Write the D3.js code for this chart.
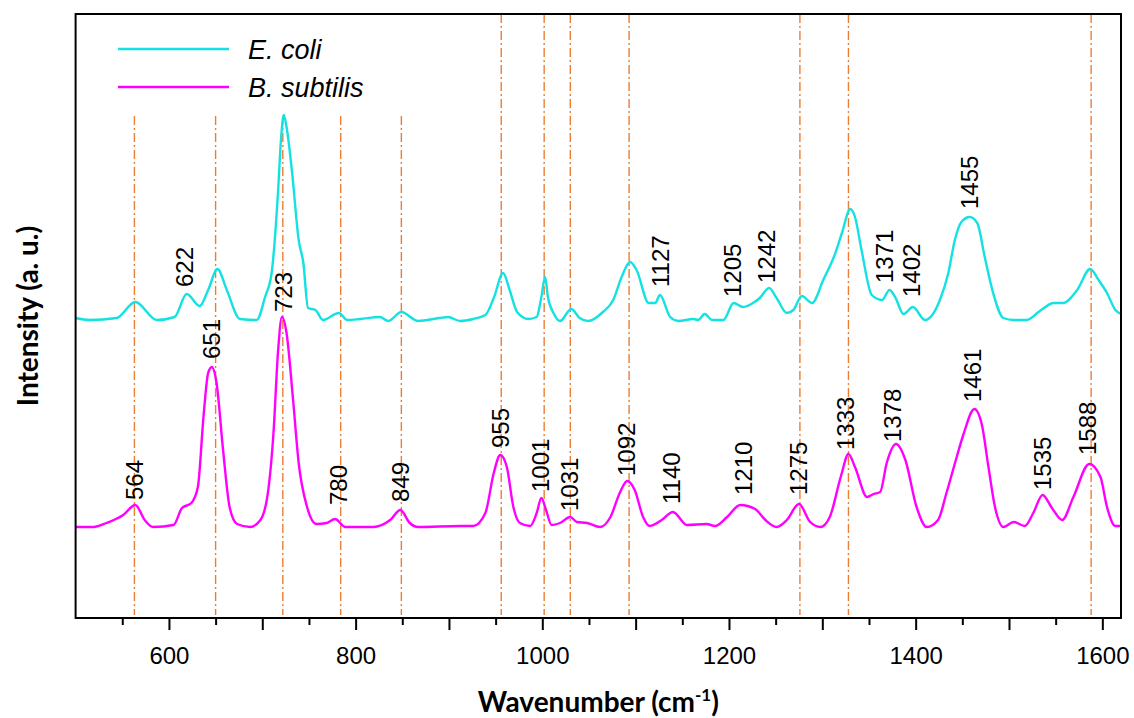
<!DOCTYPE html>
<html>
<head>
<meta charset="utf-8">
<script src="https://cdn.jsdelivr.net/npm/d3@7/dist/d3.min.js"></script>
<style>
  body { margin: 0; background: #fff; }
</style>
</head>
<body>
<svg id="chart" width="1134" height="718"></svg>
<script>
// spectra: [wavenumber, intensity (a.u., offset as plotted)]
var ecoli = [
  [500,300],[515,298],[544,300],[564,316],[587,298],[606,301],[619,324],[633,312],[642,328],
  [652,349],[662,328],[676,299],[694,298],[703,321],[710,345],[717,428],[720,478],[723,503],
  [726,491],[732,445],[739,378],[744,355],[749,310],[757,308],[765,298],[782,305],[791,298],
  [805,299],[826,301],[835,297],[849,306],[867,297],[890,300],[899,301],[912,297],[926,299],
  [939,303],[948,320],[958,345],[965,328],[973,306],[985,299],[994,301],[999,321],[1003,341],
  [1006,321],[1012,305],[1019,297],[1031,309],[1040,300],[1049,297],[1065,306],[1076,318],
  [1085,341],[1094,356],[1101,348],[1114,315],[1121,315],[1126,323],[1137,301],[1146,297],
  [1162,299],[1167,298],[1174,304],[1182,298],[1194,298],[1205,315],[1215,311],[1224,314],
  [1233,320],[1243,330],[1251,320],[1262,305],[1269,308],[1278,322],[1289,315],[1301,338],
  [1314,365],[1321,385],[1330,409],[1335,401],[1342,368],[1353,323],[1364,318],[1372,328],
  [1378,321],[1387,304],[1397,311],[1410,298],[1426,318],[1435,345],[1442,378],[1449,396],
  [1458,401],[1466,395],[1474,361],[1483,325],[1494,300],[1505,298],[1519,298],[1533,307],
  [1548,315],[1558,315],[1573,328],[1587,349],[1596,338],[1605,325],[1614,308],[1620,304]
];
var bsubtilis = [
  [500,91],[519,91],[533,95],[551,103],[564,113],[574,98],[583,91],[605,93],[614,110],
  [624,115],[631,131],[637,201],[642,245],[646,251],[651,235],[658,168],[665,111],[673,94],
  [687,91],[698,98],[706,125],[712,185],[717,268],[721,301],[726,285],[733,218],[739,155],
  [748,111],[758,94],[769,95],[778,99],[789,91],[819,91],[837,98],[848,108],[858,95],
  [867,91],[912,92],[926,92],[939,105],[948,145],[955,163],[962,151],[969,111],[976,95],
  [987,92],[994,105],[999,120],[1004,108],[1010,93],[1019,95],[1030,101],[1037,96],[1048,95],
  [1062,91],[1073,101],[1083,125],[1091,137],[1099,128],[1108,101],[1115,92],[1128,98],
  [1140,106],[1155,93],[1176,94],[1185,92],[1198,101],[1212,113],[1228,109],[1239,98],
  [1251,91],[1262,98],[1275,114],[1287,96],[1298,91],[1308,101],[1320,142],[1328,164],
  [1335,151],[1348,121],[1355,124],[1362,126],[1369,155],[1379,174],[1389,158],[1401,111],
  [1412,91],[1424,98],[1433,125],[1444,161],[1451,183],[1463,209],[1471,193],[1478,151],
  [1485,111],[1494,91],[1505,96],[1517,92],[1526,105],[1536,123],[1546,110],[1557,98],
  [1569,121],[1586,154],[1598,141],[1605,111],[1614,92],[1620,92]
];

// peak annotations: [text, wavenumber, intensity at label foot]
var ecoliPeaks = [
  ["622",616,331],["1127",1127,331],["1205",1204,321],["1242",1240,335],
  ["1371",1366,335],["1402",1395,321],["1455",1458,409]
];
var bsubPeaks = [
  ["564",563,118],["651",645,259],["723",723,306],["780",781,113],["849",848,116],
  ["955",955,170],["1001",998,126],["1031",1029,107],["1092",1090,142],["1140",1138,114],
  ["1210",1215,123],["1275",1274,123],["1333",1325,168],["1378",1375,176],["1461",1461,216],
  ["1535",1536,128],["1588",1584,163]
];

// guide lines: wavenumber and top intensity
var guideX   = [563, 650, 722, 784, 849, 956, 1002, 1030, 1093, 1276, 1328, 1588];
var guideTop = [502, 502, 502, 502, 502, 604, 604, 604, 604, 604, 604, 604];

var xMajor = [600, 700, 800, 900, 1000, 1100, 1200, 1300, 1400, 1500, 1600];
var xMinor = [550, 650, 750, 850, 950, 1050, 1150, 1250, 1350, 1450, 1550];
var xLabeled = [600, 800, 1000, 1200, 1400, 1600];

var seriesNames = ["E. coli", "B. subtilis"];
var seriesColors = ["#14E1E1", "#FF00FF"];

var plotLeft = 75.6, plotRight = 1121, plotTop = 14, plotBottom = 618;

var svg = d3.select("#chart");

var x = d3.scaleLinear().domain([500, 1620]).range([plotLeft, plotRight]);
var y = d3.scaleLinear().domain([0, 604]).range([plotBottom, plotTop]);

// guide lines
svg.append("g").selectAll("line")
  .data(guideX)
  .join("line")
    .attr("x1", d => x(d)).attr("x2", d => x(d))
    .attr("y1", (d, i) => y(guideTop[i]))
    .attr("y2", y(3))
    .attr("stroke", "#ED7D31")
    .attr("stroke-width", 1.4)
    .attr("stroke-dasharray", "9,3,2,3");

// spectra
var line = d3.line()
  .x(d => x(d[0]))
  .y(d => y(d[1]))
  .curve(d3.curveMonotoneX);

[ecoli, bsubtilis].forEach(function(s, i) {
  svg.append("path")
    .datum(s)
    .attr("fill", "none")
    .attr("stroke", seriesColors[i])
    .attr("stroke-width", 2.4)
    .attr("stroke-linejoin", "round")
    .attr("d", line);
});

// peak labels
svg.append("g").selectAll("text")
  .data(ecoliPeaks.concat(bsubPeaks))
  .join("text")
    .attr("transform", d => "translate(" + x(d[1]) + "," + y(d[2]) + ") rotate(-90)")
    .attr("dy", "0.36em")
    .attr("font-family", "Liberation Sans, Arial, sans-serif")
    .attr("font-size", 24)
    .attr("fill", "#000")
    .text(d => d[0]);

// frame
svg.append("rect")
  .attr("x", plotLeft).attr("y", plotTop)
  .attr("width", plotRight - plotLeft).attr("height", plotBottom - plotTop)
  .attr("fill", "none")
  .attr("stroke", "#000")
  .attr("stroke-width", 2);

// x axis: minor then major ticks
var minorAxis = svg.append("g")
  .attr("transform", "translate(0," + plotBottom + ")")
  .call(d3.axisBottom(x).tickValues(xMinor).tickSize(7).tickFormat(""));
minorAxis.select(".domain").remove();

var majorAxis = svg.append("g")
  .attr("transform", "translate(0," + plotBottom + ")")
  .call(d3.axisBottom(x).tickValues(xMajor).tickSize(12).tickPadding(17)
          .tickFormat(d => xLabeled.indexOf(d) >= 0 ? d : ""));
majorAxis.select(".domain").remove();

svg.selectAll(".tick line").attr("stroke", "#000").attr("stroke-width", 2);
majorAxis.selectAll("text")
  .attr("font-family", "Liberation Sans, Arial, sans-serif")
  .attr("font-size", 24)
  .attr("fill", "#000");

// axis titles
var title = svg.append("text")
  .attr("x", (plotLeft + plotRight) / 2)
  .attr("y", 712)
  .attr("text-anchor", "middle")
  .attr("font-family", "Lato, sans-serif")
  .attr("font-weight", "bold")
  .attr("font-size", 28)
  .attr("fill", "#000");
title.append("tspan").text("Wavenumber (cm");
title.append("tspan").attr("font-size", 17).attr("dy", -11).text("-1");
title.append("tspan").attr("dy", 11).text(")");

svg.append("text")
  .attr("transform", "translate(38," + (plotTop + plotBottom) / 2 + ") rotate(-90)")
  .attr("text-anchor", "middle")
  .attr("font-family", "Lato, sans-serif")
  .attr("font-weight", "bold")
  .attr("font-size", 28)
  .attr("fill", "#000")
  .text("Intensity (a. u.)");

// legend
var legend = svg.append("g");
seriesNames.forEach(function(name, i) {
  var ly = 49 + i * 38;
  legend.append("line")
    .attr("x1", 118).attr("x2", 229)
    .attr("y1", ly).attr("y2", ly)
    .attr("stroke", seriesColors[i])
    .attr("stroke-width", 2.4);
  legend.append("text")
    .attr("x", 248).attr("y", ly + 10)
    .attr("font-family", "Liberation Sans, Arial, sans-serif")
    .attr("font-style", "italic")
    .attr("font-size", 27)
    .attr("fill", "#000")
    .text(name);
});
</script>
</body>
</html>
